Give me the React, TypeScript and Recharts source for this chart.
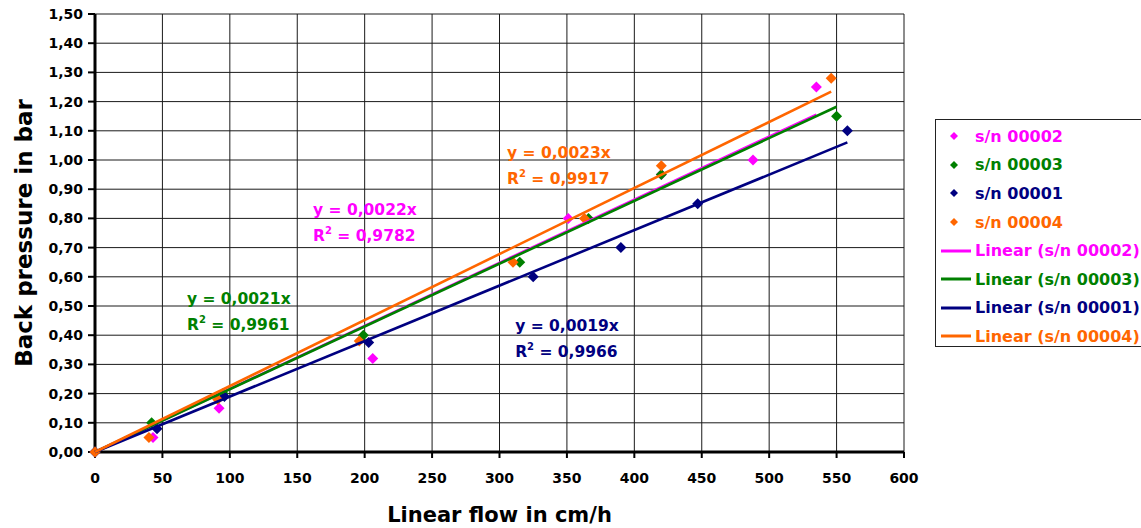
import React from "react";
import {
  ScatterChart,
  Scatter,
  XAxis,
  YAxis,
  CartesianGrid,
  Legend,
  ReferenceDot,
} from "recharts";

// flow (cm/h) and back pressure (bar) per column
const flowSn00002 = [0, 43, 92, 206, 351, 420, 488, 535];
const bpSn00002 = [0, 0.05, 0.15, 0.32, 0.8, 0.95, 1.0, 1.25];
const flowSn00003 = [0, 42, 95, 199, 315, 366, 420, 550];
const bpSn00003 = [0, 0.1, 0.2, 0.4, 0.65, 0.8, 0.95, 1.15];
const flowSn00001 = [0, 46, 96, 203, 325, 390, 447, 558];
const bpSn00001 = [0, 0.08, 0.19, 0.375, 0.6, 0.7, 0.85, 1.1];
const flowSn00004 = [0, 40, 91, 196, 310, 363, 420, 546];
const bpSn00004 = [0, 0.05, 0.18, 0.38, 0.65, 0.8, 0.98, 1.28];

// trendline slopes (through origin), as drawn
const trendSlopes = [0.00216, 0.00215, 0.0019, 0.00226];

const xTicks = [0, 50, 100, 150, 200, 250, 300, 350, 400, 450, 500, 550, 600];
const yTicks = [0, 0.1, 0.2, 0.3, 0.4, 0.5, 0.6, 0.7, 0.8, 0.9, 1.0, 1.1, 1.2, 1.3, 1.4, 1.5];

const names = ["s/n 00002", "s/n 00003", "s/n 00001", "s/n 00004"];
const colors = ["#FF00FF", "#008000", "#000080", "#FF6600"];
const flows = [flowSn00002, flowSn00003, flowSn00001, flowSn00004];
const pressures = [bpSn00002, bpSn00003, bpSn00001, bpSn00004];

// equation labels: anchor (left, first line centre) in data units
const eqText = ["y = 0,0022x", "y = 0,0021x", "y = 0,0019x", "y = 0,0023x"];
const r2Text = ["0,9782", "0,9961", "0,9966", "0,9917"];
const eqX = [161.7, 68.2, 311.6, 305.6];
const eqY = [0.832, 0.527, 0.435, 1.027];

const FONT = "'DejaVu Sans', sans-serif";

const points = flows.map((f, s) => f.map((x, i) => ({ x, y: pressures[s][i] })));
const trends = flows.map((f, s) => {
  const max = Math.max(...f);
  return [
    { x: 0, y: 0 },
    { x: max, y: trendSlopes[s] * max },
  ];
});

const Diamond = (props: any) => {
  const { cx, cy, fill } = props;
  if (cx == null || cy == null) return <g />;
  const r = 5.5;
  return (
    <polygon
      points={`${cx},${cy - r} ${cx + r},${cy} ${cx},${cy + r} ${cx - r},${cy}`}
      fill={fill}
    />
  );
};

const Nothing = () => <g />;

const fmtY = (v: number) => v.toFixed(2).replace(".", ",");

function LegendBox() {
  const rows = [
    ...names.map((n, i) => ({ label: n, color: colors[i], kind: "marker" })),
    ...names.map((n, i) => ({ label: `Linear (${n})`, color: colors[i], kind: "line" })),
  ];
  return (
    <div
      style={{
        width: 212,
        height: 228,
        border: "1px solid #222",
        boxSizing: "border-box",
        background: "#fff",
        paddingTop: 2,
        fontFamily: FONT,
      }}
    >
      {rows.map((r) => (
        <div
          key={r.label}
          style={{ height: 28.6, display: "flex", alignItems: "center", position: "relative" }}
        >
          <svg width={38} height={12} style={{ marginLeft: 4 }}>
            {r.kind === "line" ? (
              <line x1={1} y1={6} x2={31} y2={6} stroke={r.color} strokeWidth={3} />
            ) : (
              <polygon points="14,2 18,6 14,10 10,6" fill={r.color} />
            )}
          </svg>
          <span style={{ color: r.color, fontWeight: "bold", fontSize: 16, whiteSpace: "nowrap", marginLeft: -3 }}>
            {r.label}
          </span>
        </div>
      ))}
    </div>
  );
}

export default function App() {
  return (
    <div
      style={{
        position: "absolute",
        left: 0,
        top: 0,
        width: 1141,
        height: 528,
        overflow: "hidden",
        background: "#fff",
        fontFamily: FONT,
      }}
    >
      <ScatterChart
        width={1141}
        height={528}
        margin={{ top: 14, right: 237, bottom: 36, left: 35 }}
      >
        <CartesianGrid stroke="#1a1a1a" strokeWidth={1} />
        <XAxis
          type="number"
          dataKey="x"
          domain={[0, 600]}
          ticks={xTicks}
          height={40}
          tickSize={6}
          tickMargin={15}
          axisLine={{ stroke: "#000", strokeWidth: 3 }}
          tickLine={{ stroke: "#000", strokeWidth: 2 }}
          tick={{ fontSize: 14, fontWeight: "bold", fill: "#000", fontFamily: FONT }}
          label={{
            content: (p: any) => (
              <text
                x={p.viewBox.x + p.viewBox.width / 2}
                y={p.viewBox.y + 63}
                textAnchor="middle"
                dominantBaseline="central"
                fontSize={21}
                fontWeight="bold"
                fontFamily={FONT}
                fill="#000"
              >
                Linear flow in cm/h
              </text>
            ),
          }}
        />
        <YAxis
          type="number"
          dataKey="y"
          domain={[0, 1.5]}
          ticks={yTicks}
          width={60}
          tickSize={7}
          tickMargin={5}
          tickFormatter={fmtY}
          axisLine={{ stroke: "#000", strokeWidth: 3 }}
          tickLine={{ stroke: "#000", strokeWidth: 2 }}
          tick={{ fontSize: 14, fontWeight: "bold", fill: "#000", fontFamily: FONT }}
          label={{
            content: (p: any) => (
              <text
                transform={`translate(${p.viewBox.x - 11},${p.viewBox.y + p.viewBox.height / 2}) rotate(-90)`}
                textAnchor="middle"
                dominantBaseline="central"
                fontSize={23}
                fontWeight="bold"
                fontFamily={FONT}
                fill="#000"
              >
                Back pressure in bar
              </text>
            ),
          }}
        />
        <Legend
          layout="horizontal"
          verticalAlign="middle"
          wrapperStyle={{ left: 935, top: 119, width: 212 }}
          content={() => <LegendBox />}
        />
        {points.map((d, s) => (
          <Scatter
            key={names[s]}
            name={names[s]}
            data={d}
            fill={colors[s]}
            shape={<Diamond />}
            isAnimationActive={false}
          />
        ))}
        {trends.map((d, s) => (
          <Scatter
            key={`lin-${names[s]}`}
            name={`Linear (${names[s]})`}
            data={d}
            fill={colors[s]}
            line={{ stroke: colors[s], strokeWidth: 2.6 }}
            shape={<Nothing />}
            isAnimationActive={false}
          />
        ))}
        {eqX.map((x, s) => (
          <ReferenceDot
            key={`eq-${s}`}
            x={x}
            y={eqY[s]}
            r={1}
            shape={(p: any) => (
              <text
                x={p.cx}
                y={p.cy}
                fill={colors[s]}
                fontSize={15.5}
                fontWeight="bold"
                fontFamily={FONT}
              >
                <tspan x={p.cx} dy="0.36em">
                  {eqText[s]}
                </tspan>
                <tspan x={p.cx} dy={26}>
                  R
                </tspan>
                <tspan dy={-7} fontSize={10}>
                  2
                </tspan>
                <tspan dy={7}>{` = ${r2Text[s]}`}</tspan>
              </text>
            )}
          />
        ))}
      </ScatterChart>
    </div>
  );
}
